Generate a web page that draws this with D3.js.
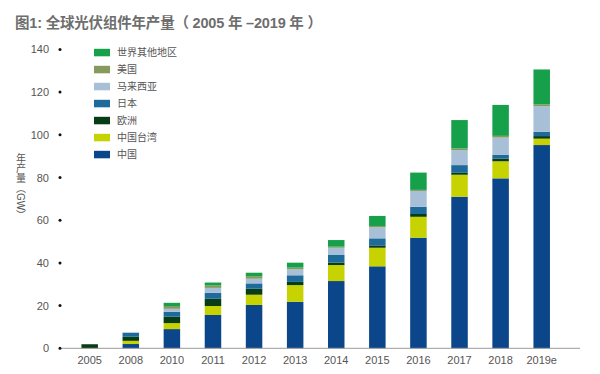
<!DOCTYPE html>
<html>
<head>
<meta charset="utf-8">
<script src="https://cdn.jsdelivr.net/npm/d3@7"></script>
<style>
  body { margin: 0; background: #fff; }
  svg { font-family: "Liberation Sans", "Noto Sans CJK SC", sans-serif; }
</style>
</head>
<body>
<script>
// years on the x axis
var years = ["2005", "2008", "2010", "2011", "2012", "2013", "2014", "2015", "2016", "2017", "2018", "2019e"];

// series names, bottom to top of each stack
var seriesNames = ["中国", "中国台湾", "欧洲", "日本", "马来西亚", "美国", "世界其他地区"];
var seriesColors = ["#0b468a", "#c6d300", "#083c14", "#1d6a9b", "#a8bfd8", "#879a5e", "#16a04a"];

// values in GW
var china    = [0,   2.0, 9.0,  15.6, 20.3, 21.8, 31.5, 38.4, 51.8, 71.0, 79.6, 95.2];
var taiwan   = [0,   1.5, 2.8,  4.2,  4.8,  7.8,  7.5,  8.7,  9.8,  10.3, 8.0,  3.0];
var europe   = [1.9, 1.9, 3.0,  3.4,  2.8,  1.5,  1.1,  1.1,  1.3,  0.9,  1.2,  1.2];
var japan    = [0,   1.9, 2.3,  2.8,  2.5,  3.1,  3.6,  3.3,  3.4,  3.6,  1.9,  2.0];
var malaysia = [0,   0.1, 1.4,  2.3,  2.2,  2.8,  3.4,  5.2,  7.4,  7.0,  8.0,  12.0];
var usa      = [0,   0,   1.3,  1.1,  1.2,  0.8,  0.5,  0.6,  0.5,  0.8,  0.8,  0.9];
var rest     = [0,   0,   1.5,  1.4,  1.6,  2.3,  3.1,  4.7,  8.1,  13.3, 14.5, 16.3];

var yTicks = [0, 20, 40, 60, 80, 100, 120, 140];

var width = 600, height = 374;

var svg = d3.select("body").append("svg")
    .attr("width", width)
    .attr("height", height);

// build table for the stack
var seriesData = [china, taiwan, europe, japan, malaysia, usa, rest];
var table = years.map(function(yr, i) {
  var row = {year: yr};
  seriesNames.forEach(function(name, k) { row[name] = seriesData[k][i]; });
  return row;
});

var stacked = d3.stack().keys(seriesNames)(table);

var x = d3.scalePoint()
    .domain(years)
    .range([89.7, 541.7]);
var barWidth = 16.5;

var y = d3.scaleLinear()
    .domain([0, 140])
    .range([348.3, 49.4]);

var color = d3.scaleOrdinal().domain(seriesNames).range(seriesColors);

// title
svg.append("text")
    .attr("x", 15)
    .attr("y", 28)
    .attr("fill", "#6e6e6e")
    .attr("font-size", 14.5)
    .attr("font-weight", "bold")
    .attr("textLength", 307)
    .attr("lengthAdjust", "spacing")
    .text("图1: 全球光伏组件年产量（ 2005 年 –2019 年 ）");

// bars
svg.append("g").selectAll("g")
  .data(stacked)
  .enter().append("g")
    .attr("fill", function(d) { return color(d.key); })
  .selectAll("rect")
  .data(function(d) { return d; })
  .enter().append("rect")
    .attr("x", function(d) { return x(d.data.year) - barWidth / 2; })
    .attr("y", function(d) { return y(d[1]); })
    .attr("width", barWidth)
    .attr("height", function(d) { return y(d[0]) - y(d[1]); });

// x axis line
svg.append("line")
    .attr("x1", 62).attr("x2", 580)
    .attr("y1", y(0)).attr("y2", y(0))
    .attr("stroke", "#9a9a9a")
    .attr("stroke-width", 1);

// x labels
svg.append("g").selectAll("text")
  .data(years)
  .enter().append("text")
    .attr("x", function(d) { return x(d); })
    .attr("y", 364)
    .attr("text-anchor", "middle")
    .attr("font-size", 11)
    .attr("fill", "#555")
    .text(function(d) { return d; });

// y ticks: dots and labels
var yt = svg.append("g");
yt.selectAll("circle")
  .data(yTicks)
  .enter().append("circle")
    .attr("cx", 60)
    .attr("cy", function(d) { return y(d); })
    .attr("r", 1.5)
    .attr("fill", "#111");
yt.selectAll("text")
  .data(yTicks)
  .enter().append("text")
    .attr("x", 49)
    .attr("y", function(d) { return y(d) + 4; })
    .attr("text-anchor", "end")
    .attr("font-size", 11)
    .attr("fill", "#555")
    .text(function(d) { return d; });

// y axis title, vertical writing
svg.append("text")
    .attr("x", 20)
    .attr("y", 153)
    .style("writing-mode", "vertical-rl")
    .attr("font-size", 10)
    .attr("fill", "#555")
    .text("年产量（GW）");

// legend, top item is 世界其他地区
var legendItems = seriesNames.slice().reverse();
var legend = svg.append("g").selectAll("g")
  .data(legendItems)
  .enter().append("g")
    .attr("transform", function(d, i) { return "translate(94," + (52.3 + i * 17) + ")"; });
legend.append("rect")
    .attr("x", 0)
    .attr("y", -3.5)
    .attr("width", 16)
    .attr("height", 7.5)
    .attr("fill", function(d) { return color(d); });
legend.append("text")
    .attr("x", 23)
    .attr("y", 3.5)
    .attr("font-size", 10)
    .attr("fill", "#555")
    .text(function(d) { return d; });
</script>
</body>
</html>
